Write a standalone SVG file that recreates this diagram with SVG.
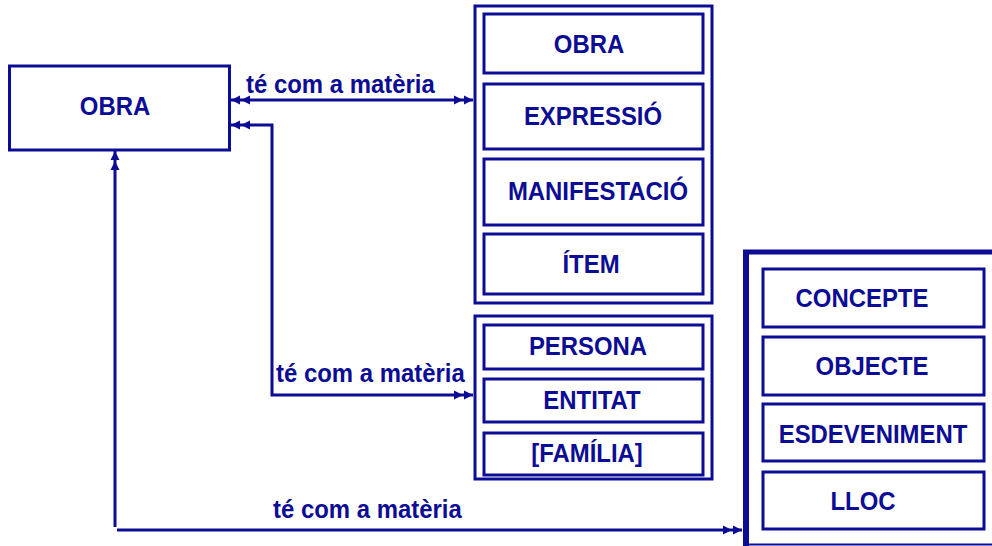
<svg xmlns="http://www.w3.org/2000/svg" width="992" height="546" viewBox="0 0 992 546">
<style>
  .box { fill: #ffffff; stroke: #0c0c94; stroke-width: 3; }
  .outer { fill: none; stroke: #0c0c94; stroke-width: 3; }
  .lbl { font-family: "Liberation Sans", Arial, sans-serif; font-weight: bold; font-size: 26px; fill: #0c0c94; text-anchor: middle; }
  .edge { font-family: "Liberation Sans", Arial, sans-serif; font-weight: bold; font-size: 26px; fill: #0c0c94; }
  .conn { fill: none; stroke: #0c0c94; stroke-width: 3; }
</style>
<defs>
  <marker id="dbl" viewBox="-20 -5 21 10" markerWidth="21" markerHeight="10" refX="0" refY="0" markerUnits="userSpaceOnUse" orient="auto-start-reverse" overflow="visible">
    <path d="M-19,-4.5 L-10,0 L-19,4.5 Z M-9,-4.5 L0,0 L-9,4.5 Z" fill="#0c0c94"/>
  </marker>
</defs>
<rect width="992" height="546" fill="#ffffff"/>

<g id="connectors">
  <line class="conn" x1="231" y1="100" x2="473" y2="100" marker-start="url(#dbl)" marker-end="url(#dbl)"/>
  <polyline class="conn" points="231,125 272,125 272,395 473,395" marker-start="url(#dbl)" marker-end="url(#dbl)"/>
  <line class="conn" x1="115" y1="527" x2="115" y2="151" marker-end="url(#dbl)"/>
  <line class="conn" x1="117" y1="530" x2="742" y2="530" marker-end="url(#dbl)"/>
  <text class="edge" transform="translate(246 93) scale(0.92 1)">té com a matèria</text>
  <text class="edge" transform="translate(276 382) scale(0.92 1)">té com a matèria</text>
  <text class="edge" transform="translate(273 518) scale(0.92 1)">té com a matèria</text>
</g>

<g id="obra-left">
  <rect class="box" x="9.5" y="66" width="220" height="84"/>
  <text class="lbl" transform="translate(115 115) scale(0.92 1)">OBRA</text>
</g>

<g id="grup1">
  <rect class="outer" x="475" y="6" width="237" height="297"/>
  <g id="g1-obra">
    <rect class="box" x="484" y="14" width="219" height="59"/>
    <text class="lbl" transform="translate(589 53) scale(0.92 1)">OBRA</text>
  </g>
  <g id="g1-expressio">
    <rect class="box" x="484" y="84" width="219" height="65"/>
    <text class="lbl" transform="translate(593 125) scale(0.92 1)">EXPRESSIÓ</text>
  </g>
  <g id="g1-manifestacio">
    <rect class="box" x="484" y="159" width="219" height="66"/>
    <text class="lbl" transform="translate(598 200) scale(0.92 1)">MANIFESTACIÓ</text>
  </g>
  <g id="g1-item">
    <rect class="box" x="484" y="234" width="219" height="60"/>
    <text class="lbl" transform="translate(591 273) scale(0.92 1)">ÍTEM</text>
  </g>
</g>

<g id="grup2">
  <rect class="outer" x="475" y="316" width="237" height="163"/>
  <g id="g2-persona">
    <rect class="box" x="484" y="325" width="219" height="44"/>
    <text class="lbl" transform="translate(588 355) scale(0.92 1)">PERSONA</text>
  </g>
  <g id="g2-entitat">
    <rect class="box" x="484" y="379" width="219" height="43"/>
    <text class="lbl" transform="translate(592 409) scale(0.92 1)">ENTITAT</text>
  </g>
  <g id="g2-familia">
    <rect class="box" x="484" y="433" width="219" height="42"/>
    <text class="lbl" transform="translate(587 462) scale(0.92 1)">[FAMÍLIA]</text>
  </g>
</g>

<g id="grup3">
  <line x1="746" y1="250" x2="746" y2="546" stroke="#0c0c94" stroke-width="6"/>
  <line x1="743" y1="252" x2="992" y2="252" stroke="#0c0c94" stroke-width="5"/>
  <line x1="746" y1="544.5" x2="992" y2="544.5" stroke="#0c0c94" stroke-width="2"/>
  <g id="g3-concepte">
    <rect class="box" x="763" y="269" width="221" height="58"/>
    <text class="lbl" transform="translate(862 307) scale(0.92 1)">CONCEPTE</text>
  </g>
  <g id="g3-objecte">
    <rect class="box" x="763" y="337" width="221" height="58"/>
    <text class="lbl" transform="translate(872 375) scale(0.92 1)">OBJECTE</text>
  </g>
  <g id="g3-esdeveniment">
    <rect class="box" x="763" y="404" width="221" height="57"/>
    <text class="lbl" transform="translate(873 443) scale(0.92 1)">ESDEVENIMENT</text>
  </g>
  <g id="g3-lloc">
    <rect class="box" x="763" y="472" width="221" height="57"/>
    <text class="lbl" transform="translate(863 510) scale(0.92 1)">LLOC</text>
  </g>
</g>
</svg>
